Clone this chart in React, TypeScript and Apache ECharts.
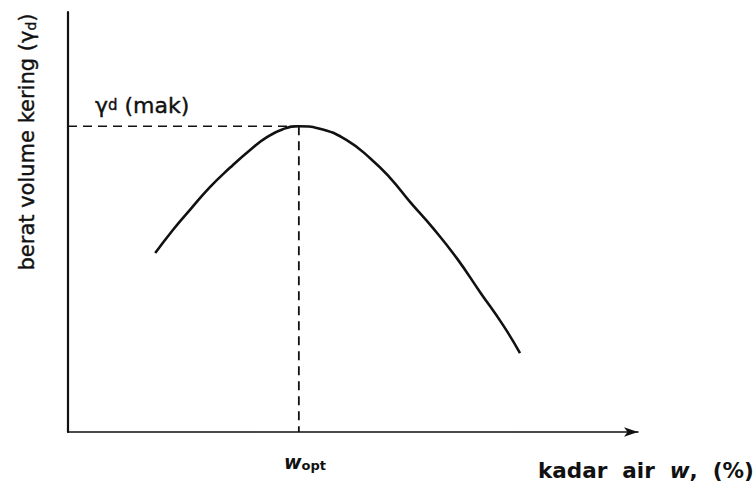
import React, { useEffect, useRef } from "react";
import * as echarts from "echarts";

// Compaction curve (dry unit weight vs. water content), arbitrary units
const waterContent = [15.3, 18.4, 21.4, 24.9, 28.4, 31.9, 34.9, 37.7, 40.5, 44.7, 48.9, 53.0, 56.5, 60.0, 64.0, 68.2, 72.3, 76.3, 79.3];
const dryDensity = [42.6, 48.1, 52.9, 58.3, 62.9, 67.1, 70.2, 72.1, 72.8, 72.0, 69.5, 65.2, 60.5, 54.8, 48.6, 41.4, 33.3, 25.5, 18.8];
const optimumW = 40.5;
const maxDensity = 72.8;
const xRange = [0, 100];
const yRange = [0, 100];

const FONT = "DejaVu Sans";

export default function App() {
  const ref = useRef<HTMLDivElement>(null);
  useEffect(() => {
    if (!ref.current) return;
    const chart = echarts.init(ref.current, null, { renderer: "svg" });
    const curve = waterContent.map((w, i) => [w, dryDensity[i]]);
    chart.setOption({
      animation: false,
      backgroundColor: "#ffffff",
      grid: { left: 68, top: 12, right: 117, bottom: 52, containLabel: false },
      xAxis: {
        type: "value",
        min: xRange[0],
        max: xRange[1],
        axisLine: {
          show: true,
          onZero: false,
          symbol: ["none", "arrow"],
          symbolSize: [7, 14],
          lineStyle: { color: "#111", width: 1.6 },
        },
        axisTick: { show: false },
        axisLabel: { show: false },
        splitLine: { show: false },
      },
      yAxis: {
        type: "value",
        min: yRange[0],
        max: yRange[1],
        axisLine: { show: true, onZero: false, lineStyle: { color: "#111", width: 2.2 } },
        axisTick: { show: false },
        axisLabel: { show: false },
        splitLine: { show: false },
      },
      series: [
        {
          type: "line",
          data: curve,
          smooth: 0.5,
          showSymbol: false,
          lineStyle: { color: "#111", width: 2.6 },
        },
        {
          type: "line",
          data: [
            [xRange[0], maxDensity],
            [optimumW, maxDensity],
          ],
          showSymbol: false,
          lineStyle: { color: "#111", width: 1.6, type: [9, 6] },
        },
        {
          type: "line",
          data: [
            [optimumW, maxDensity],
            [optimumW, yRange[0]],
          ],
          showSymbol: false,
          lineStyle: { color: "#111", width: 1.8, type: [9, 6] },
        },
      ],
      graphic: [
        {
          type: "text",
          x: 27,
          y: 142,
          rotation: Math.PI / 2,
          style: {
            text: "berat volume kering (γ{s|d})",
            fontFamily: FONT,
            fontSize: 21,
            fill: "#111",
            stroke: "#111",
            lineWidth: 0.4,
            align: "center",
            verticalAlign: "middle",
            rich: {
              s: { fontFamily: FONT, fontSize: 14, fill: "#111", stroke: "#111", lineWidth: 0.4, padding: [8, 0, 0, 0] },
            },
          },
        },
        {
          type: "text",
          x: 95,
          y: 105,
          style: {
            text: "γ{s|d} (mak)",
            fontFamily: FONT,
            fontSize: 22,
            fill: "#111",
            stroke: "#111",
            lineWidth: 0.4,
            align: "left",
            verticalAlign: "middle",
            rich: {
              s: { fontFamily: FONT, fontSize: 15, fill: "#111", stroke: "#111", lineWidth: 0.4 },
            },
          },
        },
        {
          type: "text",
          x: 284,
          y: 462,
          style: {
            text: "{w|w}{s|opt}",
            fill: "#111",
            align: "left",
            verticalAlign: "middle",
            rich: {
              w: { fontFamily: FONT, fontSize: 19, fontWeight: "bold", fontStyle: "italic", fill: "#111" },
              s: { fontFamily: FONT, fontSize: 13, fontWeight: "bold", fill: "#111", padding: [7, 0, 0, 0] },
            },
          },
        },
        {
          type: "text",
          x: 538,
          y: 470,
          style: {
            text: "{n|kadar  air  }{w|w}{n|,  (%)}",
            fill: "#111",
            align: "left",
            verticalAlign: "middle",
            rich: {
              n: { fontFamily: FONT, fontSize: 21.5, fontWeight: "bold", fill: "#111" },
              w: { fontFamily: FONT, fontSize: 21.5, fontWeight: "bold", fontStyle: "italic", fill: "#111" },
            },
          },
        },
      ],
    });
    return () => chart.dispose();
  }, []);
  return <div ref={ref} style={{ position: "absolute", left: 0, top: 0, width: 755, height: 484 }} />;
}
